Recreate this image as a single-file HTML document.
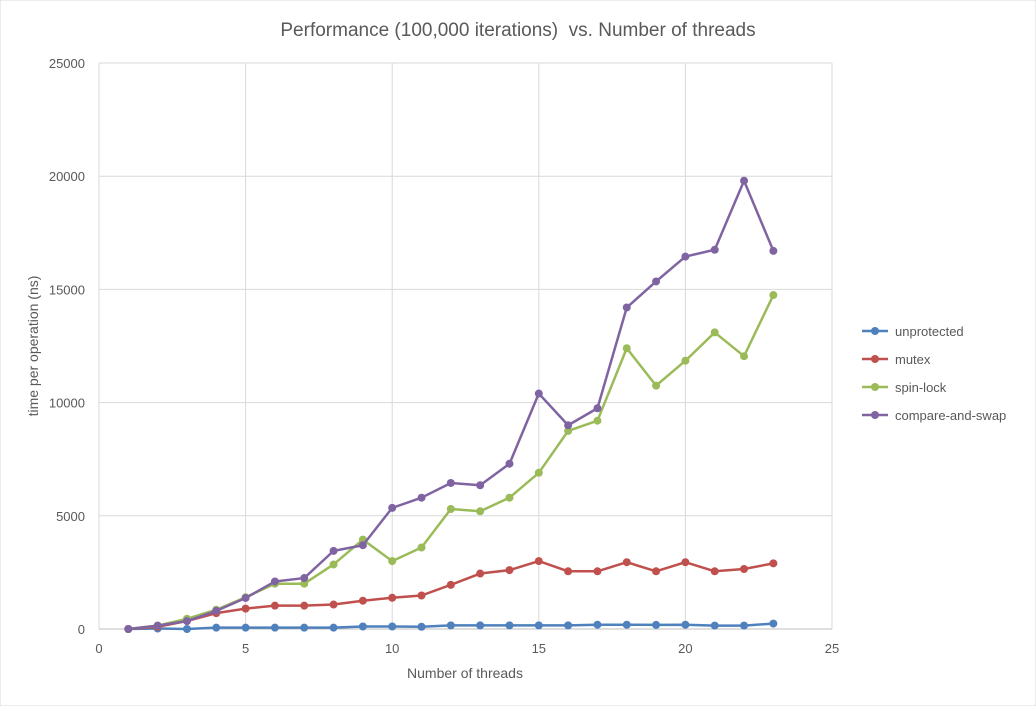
<!DOCTYPE html>
<html><head><meta charset="utf-8"><style>
body{margin:0;background:#fff;font-family:"Liberation Sans",sans-serif}
svg text{font-family:"Liberation Sans",sans-serif;fill:#595959}
</style></head><body>
<svg id="c" width="1036" height="706" xmlns="http://www.w3.org/2000/svg">
<rect width="1036" height="706" fill="#fff" stroke="#d9d9d9"/>
<text x="518" y="36" font-size="19" text-anchor="middle">Performance (100,000 iterations)&#160; vs. Number of threads</text>
<g id="grid"></g><g id="series"></g><g id="legend"></g>
<text x="465" y="678" font-size="14" text-anchor="middle">Number of threads</text>
<text transform="translate(38,346) rotate(-90)" font-size="14" text-anchor="middle">time per operation (ns)</text>
</svg>
<script>
const xTicks=[0,5,10,15,20,25];
const yTicks=[0,5000,10000,15000,20000,25000];
const threads=[1,2,3,4,5,6,7,8,9,10,11,12,13,14,15,16,17,18,19,20,21,22,23];
const seriesNames=["unprotected","mutex","spin-lock","compare-and-swap"];
const unprotected=[0,20,0,60,60,60,60,60,110,110,100,160,160,160,160,160,190,190,180,190,150,150,240];
const mutex=[0,100,350,700,900,1030,1030,1080,1250,1380,1480,1950,2450,2600,3000,2550,2550,2950,2550,2950,2550,2650,2900];
const spinLock=[0,150,450,850,1400,2000,2000,2850,3950,3000,3600,5300,5200,5800,6900,8750,9200,12400,10750,11850,13100,12050,14750];
const cas=[0,150,350,800,1370,2100,2250,3450,3700,5350,5800,6450,6350,7300,10400,9000,9750,14200,15350,16450,16750,19800,16700];
const colors=["#4f81bd","#c0504d","#9bbb59","#8064a2"];
const L=99,R=832,T=63,B=629;
const xs=v=>L+(v-0)/25*(R-L), ys=v=>B-v/25000*(B-T);
const NS="http://www.w3.org/2000/svg";
function mk(tag,attrs,parent){const e=document.createElementNS(NS,tag);for(const k in attrs)e.setAttribute(k,attrs[k]);parent.appendChild(e);return e;}
const g=document.getElementById('grid');
xTicks.forEach(t=>{
 const l=mk('line',{x1:xs(t),x2:xs(t),y1:T,y2:B,stroke:'#d9d9d9'},g);
 
 
 const tx=mk('text',{x:xs(t),y:653,'font-size':13,'text-anchor':'middle'},g);tx.textContent=t;
 
 
});
yTicks.forEach(t=>{
 const l=mk('line',{x1:L,x2:R,y1:ys(t),y2:ys(t),stroke:'#d9d9d9'},g);
 
 
 const tx=mk('text',{x:85,y:ys(t)+5,'font-size':13,'text-anchor':'end'},g);tx.textContent=t;
 
 
});
const ax=mk('line',{x1:L,x2:R,y1:B,y2:B,stroke:'#bfbfbf'},g);


const sg=document.getElementById('series'), lg=document.getElementById('legend');
[unprotected,mutex,spinLock,cas].forEach((d,i)=>{
 const grp=mk('g',{},sg);
 
 
 const pl=mk('polyline',{points:d.map((v,j)=>xs(threads[j])+','+ys(v)).join(' '),fill:'none',stroke:colors[i],'stroke-width':2.5,'stroke-linejoin':'round'},grp);
 
 
 d.forEach((v,j)=>{const c=mk('circle',{cx:xs(threads[j]),cy:ys(v),r:4,fill:colors[i]},grp);
  
  });
 const y=331+i*28;
 const le=mk('g',{},lg);
 
 
 mk('line',{x1:862,x2:888,y1:y,y2:y,stroke:colors[i],'stroke-width':2.5},le);
 mk('circle',{cx:875,cy:y,r:4,fill:colors[i]},le);
 const t=mk('text',{x:895,y:y+5,'font-size':13},le);t.textContent=seriesNames[i];
});
</script>
</body></html>
